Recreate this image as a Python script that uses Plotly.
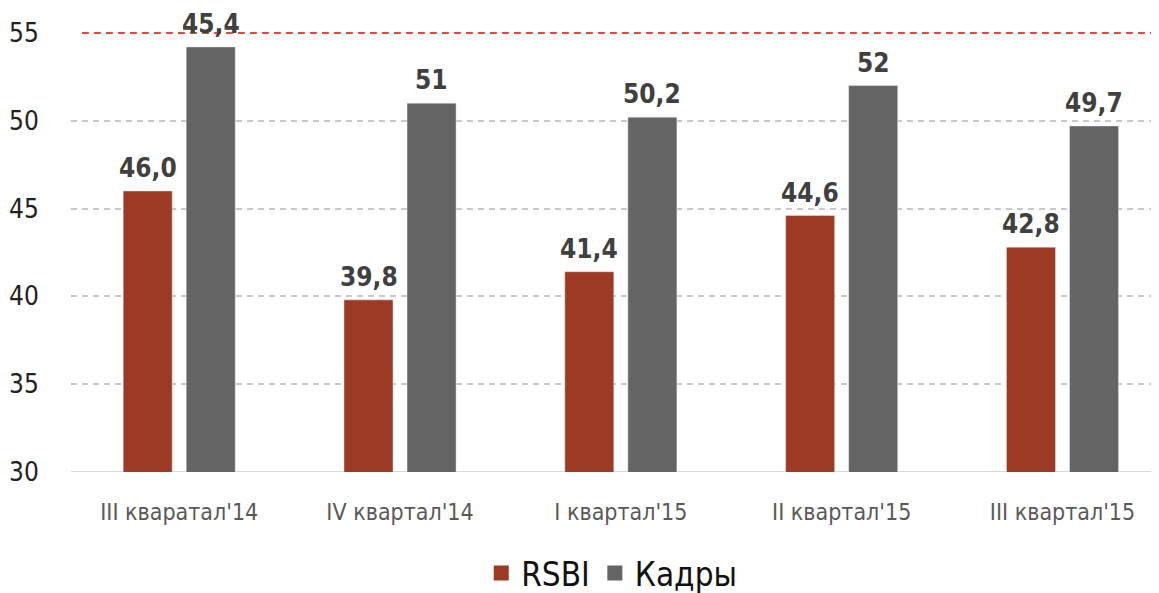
import plotly.graph_objects as go

categories = ["III кваратал'14", "IV квартал'14", "I квартал'15", "II квартал'15", "III квартал'15"]
rsbi_values = [46.0, 39.8, 41.4, 44.6, 42.8]
rsbi_labels = ["46,0", "39,8", "41,4", "44,6", "42,8"]
kadry_values = [54.2, 51.0, 50.2, 52.0, 49.7]
kadry_labels = ["45,4", "51", "50,2", "52", "49,7"]
series_names = ["RSBI", "Кадры"]
threshold = 55
y_ticks = [30, 35, 40, 45, 50, 55]

RED = "#9C3A23"
GRAY = "#646464"
NARROW = "DejaVu Sans Condensed, Liberation Sans Narrow, sans-serif"

fig = go.Figure()
fig.add_trace(go.Bar(name=series_names[0], x=categories, y=rsbi_values, marker_color=RED,
                     hoverinfo="skip", showlegend=False))
fig.add_trace(go.Bar(name=series_names[1], x=categories, y=kadry_values, marker_color=GRAY,
                     hoverinfo="skip", showlegend=False))
# legend entries with larger square symbols
for name, col in zip(series_names, [RED, GRAY]):
    fig.add_trace(go.Scatter(name=name, x=[None], y=[None], mode="markers",
                             marker=dict(symbol="square", size=15, color=col),
                             showlegend=True, hoverinfo="skip"))

label_font = dict(family=NARROW, size=26, color="#404040", weight="bold")
annotations = []
for cat, v, lab in zip(categories, rsbi_values, rsbi_labels):
    annotations.append(dict(x=cat, y=v, text=lab, showarrow=False, xshift=-31.5,
                            yshift=6, yanchor="bottom", font=label_font))
for cat, v, lab in zip(categories, kadry_values, kadry_labels):
    annotations.append(dict(x=cat, y=v, text=lab, showarrow=False, xshift=31.5,
                            yshift=6, yanchor="bottom", font=label_font))

fig.update_layout(
    width=1151, height=585,
    margin=dict(l=63, r=0, t=24, b=121),
    plot_bgcolor="white", paper_bgcolor="white",
    barmode="group", bargap=0.429, bargroupgap=0.222,
    showlegend=True,
    legend=dict(orientation="h", x=0.497, xanchor="center", yref="container",
                y=0.034, yanchor="middle",
                font=dict(family=NARROW, size=33, color="#111111"),
                itemwidth=30, traceorder="normal"),
    annotations=annotations,
    shapes=[dict(type="line", xref="paper", yref="y", x0=0.01, x1=1, y0=threshold, y1=threshold,
                 line=dict(color="#FF0000", width=1.5, dash="7px,5px"), layer="above"),
            dict(type="line", xref="paper", yref="y", x0=0, x1=1, y0=30, y1=30,
                 line=dict(color="#D9D9D9", width=2), layer="below")],
    xaxis=dict(range=[-0.49, 4.437], showgrid=False, showline=False, zeroline=False,
               tickfont=dict(family=NARROW, size=23, color="#595959"),
               ticks="outside", ticklen=19, tickcolor="rgba(0,0,0,0)"),
    yaxis=dict(range=[30, 55.05], tickvals=y_ticks,
               ticktext=[str(t) for t in y_ticks],
               showgrid=True, gridcolor="#C8C8C8", gridwidth=1.5, griddash="6px,5px",
               zeroline=False, showline=True, linecolor="rgba(0,0,0,0)",
               tickfont=dict(family=NARROW, size=26, color="#222222"),
               ticks="outside", ticklen=26, tickcolor="rgba(0,0,0,0)"),
)

fig.write_html("out.html")
